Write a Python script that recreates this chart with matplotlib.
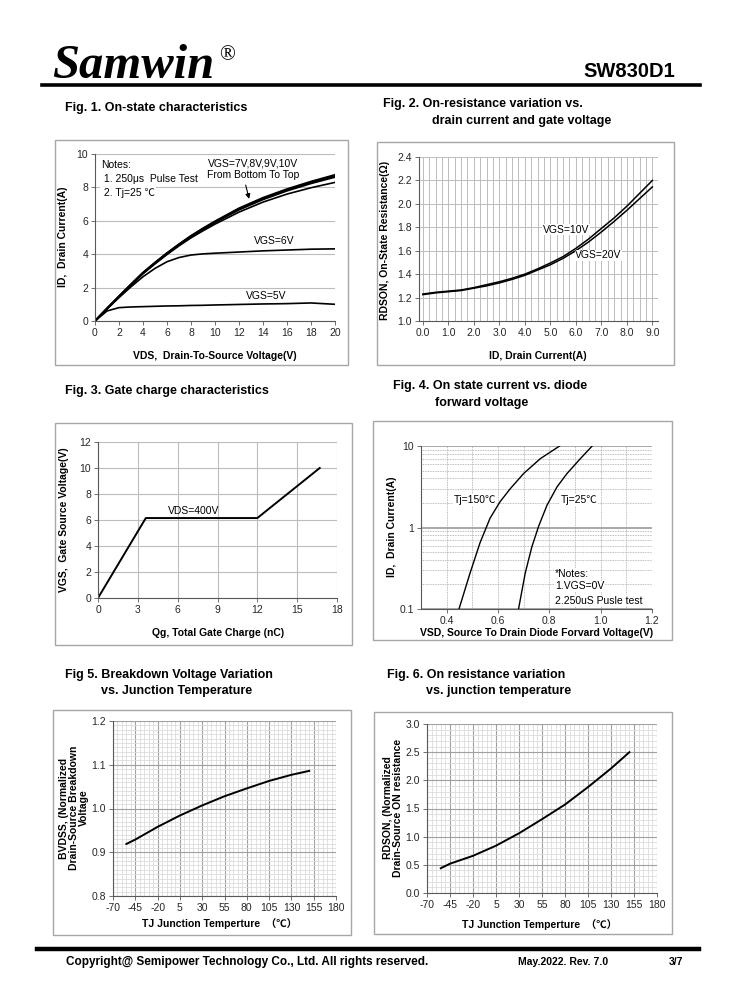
import numpy as np
import matplotlib
matplotlib.use("Agg")
import matplotlib.pyplot as plt
from matplotlib.patches import Rectangle
from matplotlib.lines import Line2D
from matplotlib.ticker import MultipleLocator, FixedLocator, NullFormatter

plt.rcParams['font.family'] = ['Liberation Sans', 'Noto Sans CJK SC', 'DejaVu Sans']
plt.rcParams['axes.unicode_minus'] = False

# --- Fig 1 data: on-state characteristics ---
vds = [0, 1, 2, 3, 4, 5, 6, 7, 8, 9, 10, 12, 14, 16, 18, 20]
id_10v = [0, 0.75, 1.48, 2.20, 2.90, 3.50, 4.07, 4.60, 5.10, 5.55, 5.97, 6.75, 7.38, 7.90, 8.35, 8.75]
id_9v = [0, 0.75, 1.47, 2.18, 2.88, 3.48, 4.05, 4.58, 5.08, 5.52, 5.94, 6.70, 7.32, 7.85, 8.30, 8.68]
id_8v = [0, 0.74, 1.46, 2.17, 2.86, 3.46, 4.03, 4.56, 5.05, 5.49, 5.90, 6.66, 7.28, 7.80, 8.24, 8.62]
id_7v = [0, 0.74, 1.45, 2.15, 2.83, 3.42, 3.98, 4.50, 4.98, 5.40, 5.80, 6.52, 7.12, 7.60, 7.98, 8.30]
id_6v = [0, 0.72, 1.40, 2.05, 2.65, 3.15, 3.55, 3.80, 3.95, 4.02, 4.06, 4.13, 4.20, 4.25, 4.30, 4.32]
id_5v = [0, 0.60, 0.80, 0.84, 0.86, 0.88, 0.90, 0.91, 0.93, 0.94, 0.96, 0.99, 1.02, 1.04, 1.08, 1.00]

# --- Fig 2 data: on-resistance vs drain current ---
id_a = [0, 0.5, 1, 1.5, 2, 2.5, 3, 3.5, 4, 4.5, 5, 5.5, 6, 6.5, 7, 7.5, 8, 8.5, 9]
rds_10v = [1.23, 1.245, 1.255, 1.265, 1.285, 1.31, 1.335, 1.365, 1.40, 1.445, 1.495, 1.55, 1.62, 1.70, 1.79, 1.88, 1.98, 2.09, 2.20]
rds_20v = [1.225, 1.24, 1.25, 1.26, 1.28, 1.30, 1.325, 1.355, 1.39, 1.435, 1.48, 1.535, 1.60, 1.675, 1.76, 1.85, 1.945, 2.045, 2.145]

# --- Fig 3 data: gate charge ---
qg = [0, 3.6, 12.0, 16.7]
vgs_qg = [0, 6.15, 6.15, 10.0]

# --- Fig 4 data: diode forward voltage ---
vsd_150 = [0.448, 0.491, 0.530, 0.569, 0.608, 0.648, 0.700, 0.765, 0.840]
isd_150 = [0.1, 0.275, 0.65, 1.3, 2.07, 3.0, 4.6, 7.0, 10]
vsd_25 = [0.680, 0.706, 0.732, 0.758, 0.791, 0.830, 0.869, 0.921, 0.967]
isd_25 = [0.1, 0.275, 0.58, 1.03, 1.88, 3.15, 4.6, 7.0, 10]

# --- Fig 5 / 6 data: vs junction temperature ---
tj = [-55, -45, -20, 5, 30, 55, 80, 105, 130, 150]
bvdss = [0.919, 0.929, 0.958, 0.984, 1.007, 1.028, 1.046, 1.063, 1.077, 1.086]
rdson_n = [0.44, 0.52, 0.66, 0.84, 1.06, 1.31, 1.57, 1.88, 2.21, 2.50]
tj_ticks = [-70, -45, -20, 5, 30, 55, 80, 105, 130, 155, 180]

W, H = 738, 1000
fig = plt.figure(figsize=(W / 100, H / 100), dpi=100)

GRID = '#bcbcbc'
SPINE = '#595959'
TICK_FS = 7.5
LAB_FS = 7.5
NOTE_FS = 7.5


def add_ax(l, t, r, b):
    return fig.add_axes([l / W, 1 - b / H, (r - l) / W, (b - t) / H])


def box(l, t, r, b):
    fig.add_artist(Rectangle((l / W, 1 - b / H), (r - l) / W, (b - t) / H,
                             transform=fig.transFigure, fill=False,
                             edgecolor='#a6a6a6', lw=1))


def ftext(x, y, s, **kw):
    fig.text(x / W, 1 - y / H, s, **kw)


def style(ax):
    for s in ['top', 'right']:
        ax.spines[s].set_visible(False)
    for s in ['left', 'bottom']:
        ax.spines[s].set_color(SPINE)
        ax.spines[s].set_linewidth(0.8)
    ax.tick_params(labelsize=TICK_FS, length=3, width=0.6, color=SPINE,
                   labelcolor='#262626', pad=2)
    ax.set_axisbelow(True)


WHITE = dict(facecolor='white', edgecolor='none', pad=0.5)

# ---------------- header / footer ----------------
ftext(52, 78, 'Samwin', family='Liberation Serif', fontsize=35,
      weight='bold', style='italic', va='baseline')
ftext(219, 60, '®', family='Liberation Serif', fontsize=15, va='baseline')
ftext(675, 77, 'SW830D1', fontsize=14.5, weight='bold', ha='right', va='baseline')
fig.add_artist(Line2D([42 / W, 700 / W], [1 - 85 / H] * 2, lw=2.6, color='black'))

fig.add_artist(Line2D([37 / W, 699 / W], [1 - 949 / H] * 2, lw=3.2, color='black'))
ftext(66, 962, 'Copyright@ Semipower Technology Co., Ltd. All rights reserved.',
      fontsize=8.5, weight='bold', va='center')
ftext(518, 962, 'May.2022. Rev. 7.0', fontsize=7.5, weight='bold', va='center')
ftext(669, 962, '3/7', fontsize=7.5, weight='bold', va='center')

# ---------------- titles ----------------
TFS = 9
ftext(65, 108, 'Fig. 1. On-state characteristics', fontsize=TFS, weight='bold', va='center')
ftext(383, 104, 'Fig. 2. On-resistance variation vs.', fontsize=TFS, weight='bold', va='center')
ftext(432, 121, 'drain current and gate voltage', fontsize=TFS, weight='bold', va='center')
ftext(65, 391, 'Fig. 3. Gate charge characteristics', fontsize=TFS, weight='bold', va='center')
ftext(393, 386, 'Fig. 4. On state current vs. diode', fontsize=TFS, weight='bold', va='center')
ftext(435, 403, 'forward voltage', fontsize=TFS, weight='bold', va='center')
ftext(65, 675, 'Fig 5. Breakdown Voltage Variation', fontsize=TFS, weight='bold', va='center')
ftext(101, 691, 'vs. Junction Temperature', fontsize=TFS, weight='bold', va='center')
ftext(387, 675, 'Fig. 6. On resistance variation', fontsize=TFS, weight='bold', va='center')
ftext(426, 691, 'vs. junction temperature', fontsize=TFS, weight='bold', va='center')

# ---------------- Fig 1 ----------------
box(55, 140, 348, 365)
ax1 = add_ax(95, 154, 335, 321)
style(ax1)
ax1.set_xlim(0, 20)
ax1.set_ylim(0, 10)
ax1.xaxis.set_major_locator(MultipleLocator(2))
ax1.yaxis.set_major_locator(MultipleLocator(2))
ax1.grid(axis='y', color=GRID, lw=0.8)
ax1.plot(vds, id_7v, color='black', lw=1.2)
ax1.plot(vds, id_8v, color='black', lw=1.4)
ax1.plot(vds, id_9v, color='black', lw=1.4)
ax1.plot(vds, id_10v, color='black', lw=1.4)
ax1.plot(vds, id_6v, color='black', lw=1.2)
ax1.plot(vds, id_5v, color='black', lw=1.2)
ax1.text(0.5, 9.35, 'Notes:', fontsize=NOTE_FS, va='center', bbox=WHITE)
ax1.text(0.5, 8.5, ' 1. 250μs  Pulse Test', fontsize=NOTE_FS, va='center', bbox=WHITE)
ax1.text(0.5, 7.65, ' 2. Tj=25 ℃', fontsize=NOTE_FS, va='center', bbox=WHITE)
ax1.text(13.2, 9.45, 'VGS=7V,8V,9V,10V', fontsize=NOTE_FS, ha='center', va='center', bbox=WHITE)
ax1.text(13.2, 8.72, 'From Bottom To Top', fontsize=NOTE_FS, ha='center', va='center', bbox=WHITE)
ax1.annotate('', xy=(12.9, 7.15), xytext=(12.5, 8.3),
             arrowprops=dict(arrowstyle='-|>', color='black', lw=0.8, mutation_scale=7))
ax1.text(14.9, 4.8, 'VGS=6V', fontsize=NOTE_FS, ha='center', va='center')
ax1.text(14.3, 1.5, 'VGS=5V', fontsize=NOTE_FS, ha='center', va='center')
ftext(215, 356, 'VDS,  Drain-To-Source Voltage(V)', fontsize=LAB_FS, weight='bold', ha='center', va='center')
ftext(63, 237, 'ID,  Drain Current(A)', fontsize=LAB_FS, weight='bold', ha='center', va='center', rotation=90)

# ---------------- Fig 2 ----------------
box(377, 142, 674, 365)
ax2 = add_ax(419, 157, 658, 321)
style(ax2)
ax2.set_xlim(-0.15, 9.22)
ax2.set_ylim(1.0, 2.4)
ax2.xaxis.set_major_locator(FixedLocator(np.arange(0, 9.5, 1.0)))
ax2.xaxis.set_major_formatter(matplotlib.ticker.FormatStrFormatter('%.1f'))
ax2.xaxis.set_minor_locator(MultipleLocator(0.25))
ax2.yaxis.set_major_locator(MultipleLocator(0.2))
ax2.yaxis.set_major_formatter(matplotlib.ticker.FormatStrFormatter('%.1f'))
ax2.grid(which='both', color=GRID, lw=0.7)
ax2.tick_params(which='minor', length=0)
ax2.plot(id_a, rds_10v, color='black', lw=1.1)
ax2.plot(id_a, rds_20v, color='black', lw=1.1)
ax2.text(4.72, 1.78, 'VGS=10V', fontsize=NOTE_FS, va='center', bbox=WHITE)
ax2.text(5.98, 1.56, 'VGS=20V', fontsize=NOTE_FS, va='center', bbox=WHITE)
ftext(538, 356, 'ID, Drain Current(A)', fontsize=LAB_FS, weight='bold', ha='center', va='center')
ftext(385, 240, 'RDSON, On-State Resistance(Ω)', fontsize=LAB_FS, weight='bold', ha='center', va='center', rotation=90)

# ---------------- Fig 3 ----------------
box(55, 423, 352, 645)
ax3 = add_ax(98, 442, 337, 598)
style(ax3)
ax3.set_xlim(0, 18)
ax3.set_ylim(0, 12)
ax3.xaxis.set_major_locator(MultipleLocator(3))
ax3.yaxis.set_major_locator(MultipleLocator(2))
ax3.grid(color=GRID, lw=0.8)
ax3.plot(qg, vgs_qg, color='black', lw=1.4)
ax3.text(7.2, 6.7, 'VDS=400V', fontsize=NOTE_FS, ha='center', va='center')
ftext(218, 633, 'Qg, Total Gate Charge (nC)', fontsize=LAB_FS, weight='bold', ha='center', va='center')
ftext(64, 520, 'VGS,  Gate Source Voltage(V)', fontsize=LAB_FS, weight='bold', ha='center', va='center', rotation=90)

# ---------------- Fig 4 ----------------
box(373, 421, 672, 640)
ax4 = add_ax(421, 446, 652, 609)
style(ax4)
ax4.set_yscale('log')
ax4.set_xlim(0.3, 1.2)
ax4.set_ylim(0.1, 10)
ax4.xaxis.set_major_locator(FixedLocator([0.4, 0.6, 0.8, 1.0, 1.2]))
ax4.xaxis.set_major_formatter(matplotlib.ticker.FormatStrFormatter('%.1f'))
ax4.xaxis.set_minor_locator(FixedLocator([0.3, 0.5, 0.7, 0.9, 1.1]))
ax4.yaxis.set_major_locator(FixedLocator([0.1, 1, 10]))
ax4.yaxis.set_major_formatter(matplotlib.ticker.FixedFormatter(['0.1', '1', '10']))
ax4.yaxis.set_minor_formatter(NullFormatter())
ax4.tick_params(which='minor', length=0)
ax4.grid(axis='y', which='major', color='#9a9a9a', lw=1.2)
ax4.grid(axis='y', which='minor', color='#a8a8a8', lw=0.6, ls=(0, (1, 1)))
ax4.grid(axis='x', which='both', color='#a8a8a8', lw=0.6, ls=(0, (1, 1)))
ax4.plot(vsd_150, isd_150, color='black', lw=1.0)
ax4.plot(vsd_25, isd_25, color='black', lw=1.0)
ax4.text(0.426, 2.17, 'Tj=150℃', fontsize=NOTE_FS, va='center', bbox=WHITE)
ax4.text(0.843, 2.17, 'Tj=25℃', fontsize=NOTE_FS, va='center', bbox=WHITE)
ax4.text(0.823, 0.27, '*Notes:', fontsize=NOTE_FS, va='center', bbox=WHITE)
ax4.text(0.823, 0.19, '1.VGS=0V', fontsize=NOTE_FS, va='center', bbox=WHITE)
ax4.text(0.823, 0.127, '2.250uS Pusle test', fontsize=NOTE_FS, va='center', bbox=WHITE)
ftext(537, 633, 'VSD, Source To Drain Diode Forvard Voltage(V)', fontsize=LAB_FS, weight='bold', ha='center', va='center')
ftext(392, 527, 'ID,  Drain Current(A)', fontsize=LAB_FS, weight='bold', ha='center', va='center', rotation=90)

# ---------------- Fig 5 ----------------
box(53, 710, 351, 935)
ax5 = add_ax(113, 721, 336, 896)
style(ax5)
ax5.set_xlim(-70, 180)
ax5.set_ylim(0.8, 1.2)
ax5.xaxis.set_major_locator(FixedLocator(tj_ticks))
ax5.xaxis.set_minor_locator(MultipleLocator(5))
ax5.yaxis.set_major_locator(MultipleLocator(0.1))
ax5.yaxis.set_minor_locator(MultipleLocator(0.01))
ax5.yaxis.set_major_formatter(matplotlib.ticker.FormatStrFormatter('%.1f'))
ax5.tick_params(which='minor', length=0)
ax5.grid(which='minor', color='#dcdcdc', lw=0.6)
ax5.grid(which='major', color='#a0a0a0', lw=0.8)
ax5.plot(tj, bvdss, color='black', lw=1.4)
ftext(220, 924, 'TJ Junction Temperture  （℃）', fontsize=LAB_FS, weight='bold', ha='center', va='center')
ftext(74, 808, 'BVDSS, (Normalized\nDrain-Source Breakdown\nVoltage', fontsize=LAB_FS, weight='bold',
      ha='center', va='center', rotation=90, linespacing=0.95)

# ---------------- Fig 6 ----------------
box(374, 712, 672, 934)
ax6 = add_ax(427, 724, 657, 893)
style(ax6)
ax6.set_xlim(-70, 180)
ax6.set_ylim(0, 3.0)
ax6.xaxis.set_major_locator(FixedLocator(tj_ticks))
ax6.xaxis.set_minor_locator(MultipleLocator(5))
ax6.yaxis.set_major_locator(MultipleLocator(0.5))
ax6.yaxis.set_minor_locator(MultipleLocator(0.1))
ax6.yaxis.set_major_formatter(matplotlib.ticker.FormatStrFormatter('%.1f'))
ax6.tick_params(which='minor', length=0)
ax6.grid(which='minor', color='#dcdcdc', lw=0.6)
ax6.grid(which='major', color='#a0a0a0', lw=0.8)
ax6.plot(tj, rdson_n, color='black', lw=1.4)
ftext(540, 925, 'TJ Junction Temperture  （℃）', fontsize=LAB_FS, weight='bold', ha='center', va='center')
ftext(393, 808, 'RDSON, (Normalized\nDrain-Source ON resistance', fontsize=LAB_FS, weight='bold',
      ha='center', va='center', rotation=90, linespacing=0.95)

fig.savefig('out.png', dpi=100)
